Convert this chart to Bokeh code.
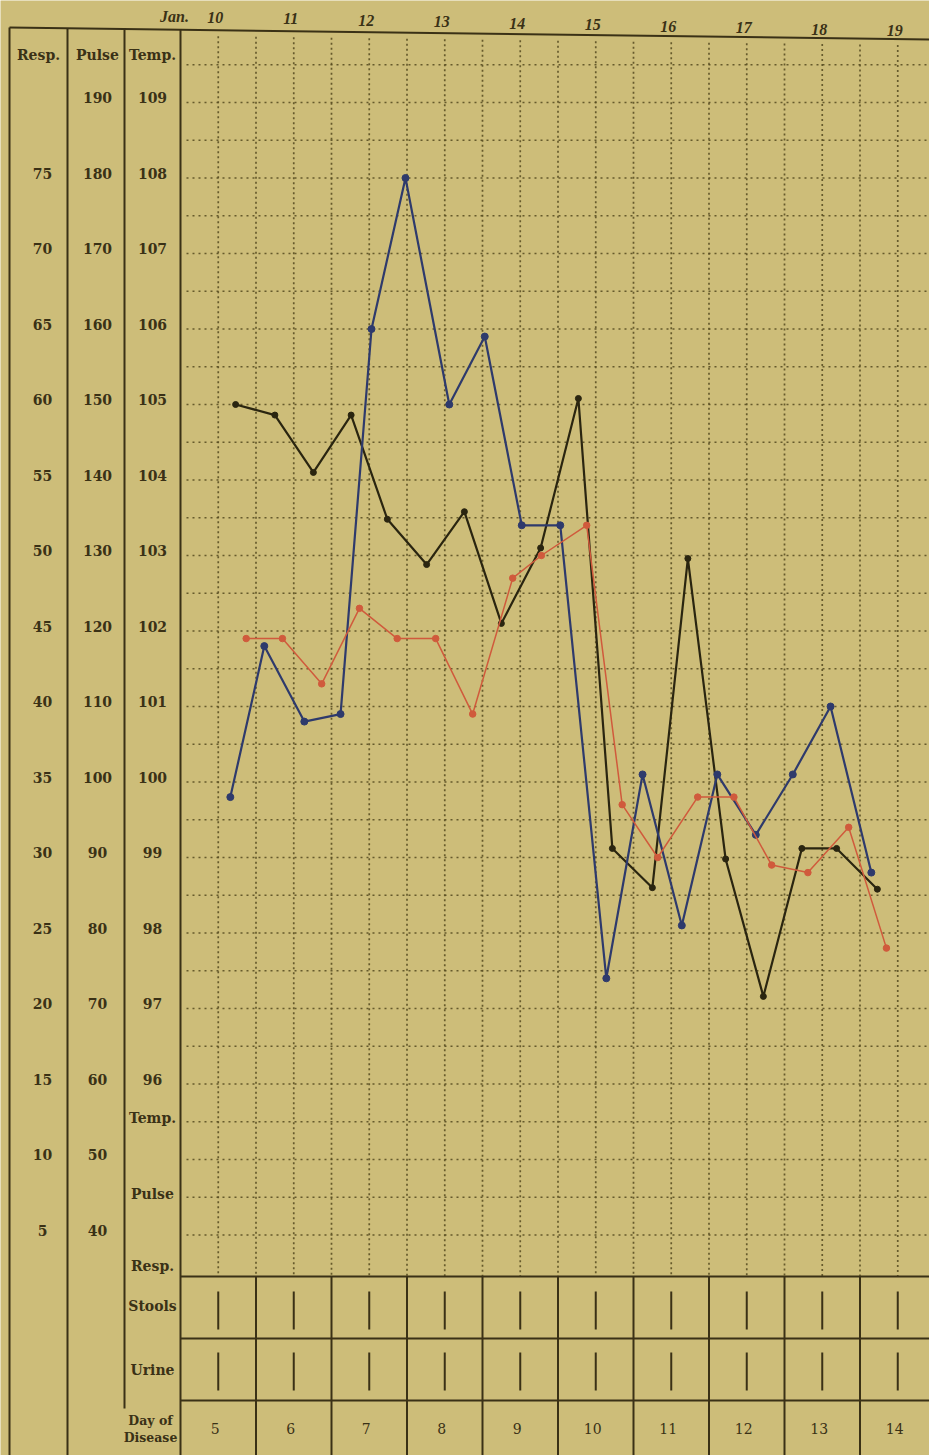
from bokeh.plotting import figure
from bokeh.models import Range1d
from bokeh.core.properties import value
from bokeh.embed import file_html
from bokeh.resources import INLINE

# ---------------- data ----------------
date_prefix = "Jan."
dates = ["10", "11", "12", "13", "14", "15", "16", "17", "18", "19"]
day_of_disease = ["5", "6", "7", "8", "9", "10", "11", "12", "13", "14"]

temp_ticks = [109, 108, 107, 106, 105, 104, 103, 102, 101, 100, 99, 98, 97, 96]
pulse_ticks = [190, 180, 170, 160, 150, 140, 130, 120, 110, 100, 90, 80, 70, 60, 50, 40]
resp_ticks = [75, 70, 65, 60, 55, 50, 45, 40, 35, 30, 25, 20, 15, 10, 5]

# time in days of January (fractional: morning / evening readings)
temp_x = [10.87, 11.35, 11.87, 12.37, 12.87, 13.38, 13.87, 14.40, 14.78,
          15.38, 15.85, 16.32, 16.85, 17.33, 17.83, 18.31, 18.85, 19.35]
temp_f = [101.9, 101.9, 101.3, 102.3, 101.9, 101.9, 100.9, 102.7, 103.0,
          103.4, 99.7, 99.0, 99.8, 99.8, 98.9, 98.8, 99.4, 97.8]

pulse_x = [10.66, 11.11, 11.64, 12.12, 12.53, 12.98, 13.56, 14.03, 14.52,
           15.03, 15.64, 16.12, 16.64, 17.11, 17.62, 18.11, 18.61, 19.15]
pulse = [98, 118, 108, 109, 160, 180, 150, 159, 134,
         134, 74, 101, 81, 101, 93, 101, 110, 88]

resp_x = [10.73, 11.25, 11.76, 12.26, 12.74, 13.26, 13.76, 14.25, 14.77,
          15.27, 15.72, 16.25, 16.72, 17.22, 17.72, 18.23, 18.69, 19.23]
resp = [60.0, 59.3, 55.5, 59.3, 52.4, 49.4, 52.9, 45.5, 50.5,
        60.4, 30.6, 28.0, 49.8, 29.9, 20.8, 30.6, 30.6, 27.9]

stools = [1, 1, 1, 1, 1, 1, 1, 1, 1, 1]
urine = [1, 1, 1, 1, 1, 1, 1, 1, 1, 1]

# ---------------- scale conversions (chart's own scales) ----------------
def pulse_to_t(v):
    return 90 + v / 10.0

def resp_to_t(v):
    return 93 + v / 5.0

# ---------------- layout ----------------
W, H = 929, 1455
PX = 75.5            # pixels per day and per degree
MARGIN = 0
GX, GDAY = 180, 10   # page x of the grid's left edge, day there
RY, RT = 404, 105    # page y of the 105 degree line

def fx(px):
    return GDAY + (px - GX) / PX

def fy(py):
    return RT - (py - RY) / PX

x0 = fx(MARGIN)
y1 = fy(MARGIN)
BG = "#cdbd79"
INK = "#3a3116"
GRID = "#54491f"

p = figure(width=W, height=H, output_backend="svg", toolbar_location=None,
           x_range=Range1d(x0, x0 + W / PX), y_range=Range1d(y1 - H / PX, y1),
           min_border=0, x_axis_location=None, y_axis_location=None,
           background_fill_color=BG, border_fill_color=BG, outline_line_color=None)
p.grid.visible = False

def top_y(px):
    return 27 + px * 0.0129

ndays = len(dates)
grid_bottom = 1276
row1, row2, bottom = 1338, 1400, 1460

# dotted grid: horizontals every half degree, verticals every half day
hs = []
t = 94.0
while t <= 109.6:
    hs.append(t)
    t += 0.5
p.multi_line(xs=[[fx(186), fx(935)] for _ in hs], ys=[[h, h] for h in hs],
             line_color=GRID, line_width=1.7, line_dash="2 4", line_alpha=0.85)
vs = [GDAY + 0.5 * k for k in range(1, 2 * ndays)]
p.multi_line(xs=[[v, v] for v in vs],
             ys=[[fy(top_y(GX + (v - GDAY) * PX) + 6), fy(grid_bottom)] for v in vs],
             line_color=GRID, line_width=1.7, line_dash="2 3", line_alpha=0.85)

# solid frame lines
frame_xs, frame_ys = [], []
frame_xs.append([fx(9), fx(935)]); frame_ys.append([fy(top_y(9)), fy(top_y(935))])
for colx, yb in [(9, bottom), (67, bottom), (124, 1408), (GX, bottom)]:
    frame_xs.append([fx(colx), fx(colx)]); frame_ys.append([fy(top_y(colx)), fy(yb)])
for ry in [grid_bottom, row1, row2]:
    frame_xs.append([fx(GX), fx(935)]); frame_ys.append([fy(ry), fy(ry)])
for k in range(1, ndays + 1):
    xx = GDAY + k
    frame_xs.append([xx, xx]); frame_ys.append([fy(grid_bottom), fy(bottom)])
p.multi_line(xs=frame_xs, ys=frame_ys, line_color=INK, line_width=2)

# stools / urine marks
cell_c = [GDAY + i + 0.5 for i in range(ndays)]
sx = [c for c, s in zip(cell_c, stools) if s]
ux = [c for c, u in zip(cell_c, urine) if u]
p.segment(x0=sx, y0=[fy(1291)] * len(sx), x1=sx, y1=[fy(1329)] * len(sx),
          line_color=INK, line_width=2)
p.segment(x0=ux, y0=[fy(1352)] * len(ux), x1=ux, y1=[fy(1390)] * len(ux),
          line_color=INK, line_width=2)

# data series
BLACK = "#2a2510"
BLUE = "#2e3a6c"
RED = "#d05a3c"
px_t = [pulse_to_t(v) for v in pulse]
rs_t = [resp_to_t(v) for v in resp]
p.line(resp_x, rs_t, line_color=BLACK, line_width=2.2)
p.scatter(resp_x, rs_t, size=6, color=BLACK)
p.line(pulse_x, px_t, line_color=BLUE, line_width=2.2)
p.scatter(pulse_x, px_t, size=7, color=BLUE)
p.line(temp_x, temp_f, line_color=RED, line_width=1.5)
p.scatter(temp_x, temp_f, size=6.5, color=RED)

# texts
FONT = value("DejaVu Serif")
def txt(xs, ys, texts, size="14px", style="bold", align="center", color=INK):
    p.text(x=xs, y=ys, text=texts, text_font=FONT, text_font_size=size,
           text_font_style=style, text_align=align, text_baseline="middle",
           text_color=color)

off = 5 / PX
txt([fx(38), fx(97), fx(152)], [fy(54)] * 3, ["Resp.", "Pulse", "Temp."])
txt([fx(152)] * len(temp_ticks), [v + off for v in temp_ticks], [str(v) for v in temp_ticks])
txt([fx(97)] * len(pulse_ticks), [pulse_to_t(v) + off for v in pulse_ticks],
    [str(v) for v in pulse_ticks])
txt([fx(42)] * len(resp_ticks), [resp_to_t(v) + off for v in resp_ticks],
    [str(v) for v in resp_ticks])
txt([fx(152)] * 5, [fy(1117), fy(1193), fy(1265), fy(1305), fy(1369)],
    ["Temp.", "Pulse", "Resp.", "Stools", "Urine"])
txt([fx(150)] * 2, [fy(1420), fy(1437)], ["Day of", "Disease"], size="12.5px")
txt([c - 3 / PX for c in cell_c], [fy(1428)] * ndays, day_of_disease, size="14px", style="normal")

date_x = [c - 3 / PX for c in cell_c]
date_y = [fy(17 + (GX + (c - GDAY) * PX - 214) * 0.0195) for c in date_x]
p.text(x=date_x, y=date_y, text=dates, text_font=value("Liberation Serif"),
       text_font_size="16px", text_font_style="bold italic", text_align="center",
       text_baseline="middle", text_color=INK)
p.text(x=[fx(174)], y=[fy(16)], text=[date_prefix], text_font=value("Liberation Serif"),
       text_font_size="16px", text_font_style="bold italic", text_align="center",
       text_baseline="middle", text_color=INK)

open("out.html", "w").write(file_html(p, INLINE))
